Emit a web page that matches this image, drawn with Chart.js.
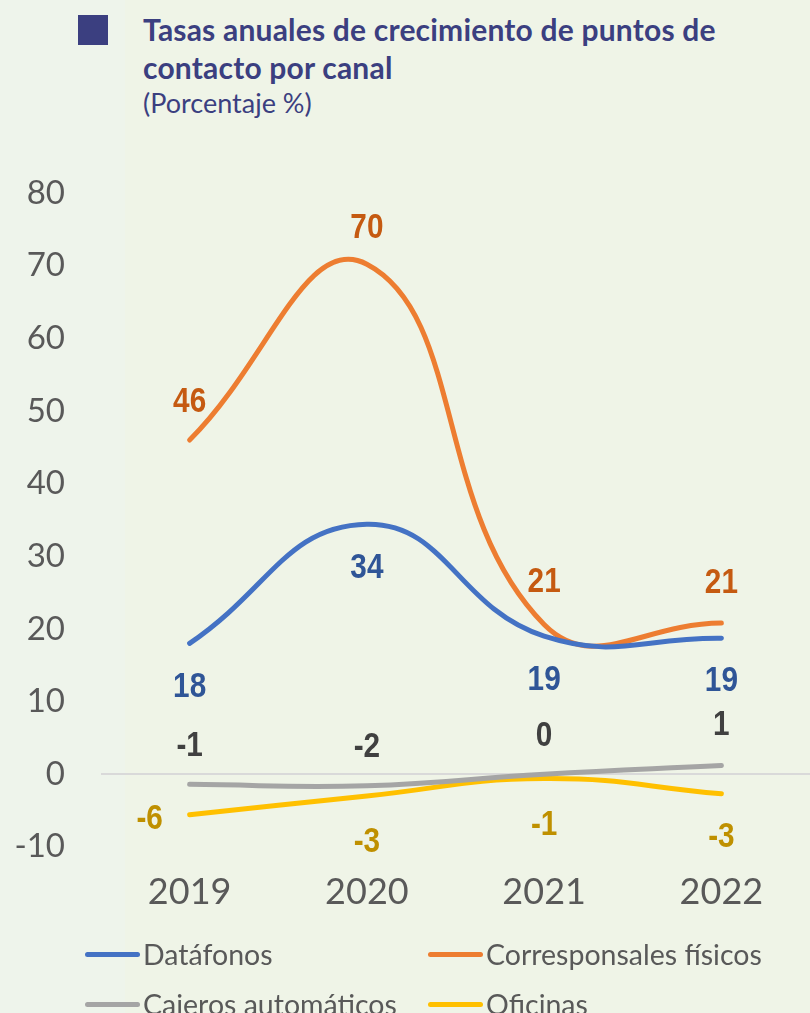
<!DOCTYPE html>
<html>
<head>
<meta charset="utf-8">
<script src="https://cdn.jsdelivr.net/npm/chart.js@4"></script>
<style>
  html, body { margin: 0; padding: 0; }
  body { width: 810px; height: 1013px; overflow: hidden; background: #eff4e7; position: relative; font-family: Lato, "Noto Sans", sans-serif; }
  .strip { position: absolute; left: 0; top: 0; width: 125px; height: 1013px; background: #eef4eb; }
  .title { position: absolute; left: 143px; top: 10px; color: #3b3f80; }
  .title .main { font-weight: bold; font-size: 30px; line-height: 38px; letter-spacing: 0.2px; }
  .title .sub { font-size: 27px; line-height: 32px; margin-top: 1px; }
  .square { position: absolute; left: 78px; top: 15px; width: 30px; height: 30px; background: #3b3f80; }
  .chart-box { position: absolute; left: 0; top: 0; width: 810px; height: 938px; }
  .legend { position: absolute; left: 85px; top: 937px; width: 720px; display: grid; grid-template-columns: 343px 370px; row-gap: 16px; color: #595959; font-size: 28.5px; }
  .legend div { display: flex; align-items: center; white-space: nowrap; }
  .legend span.ln { display: inline-block; width: 55px; height: 5px; border-radius: 3px; margin-right: 3px; }
</style>
</head>
<body>
<div class="strip"></div>
<div class="square"></div>
<div class="title">
  <div class="main">Tasas anuales de crecimiento de puntos de<br>contacto por canal</div>
  <div class="sub">(Porcentaje %)</div>
</div>
<div class="chart-box"><canvas id="chart"></canvas></div>
<div class="legend" id="legend"></div>
<script>
const years = ['2019', '2020', '2021', '2022'];
const datafonos = [18.0, 34.4, 19.0, 18.7];
const corresponsales = [46.0, 70.2, 20.6, 20.8];
const cajeros = [-1.4, -1.6, 0.0, 1.2];
const oficinas = [-5.6, -3.0, -0.6, -2.7];
const seriesNames = ['Datáfonos', 'Corresponsales físicos', 'Cajeros automáticos', 'Oficinas'];

const lineColors = ['#4472c4', '#ed7d31', '#a5a5a5', '#ffc000'];
const labelColors = ['#2f5597', '#c55a11', '#404040', '#bf9000'];

// where each value label sits relative to its point: [dx, dy]
const labelOffsets = [
  [[0, 44], [0, 44], [0, 44], [0, 43]],
  [[0, -38], [0, -36], [0, -42], [0, -40]],
  [[0, -38], [0, -38], [0, -38], [0, -40]],
  [[-40, 5], [0, 46], [0, 47], [0, 44]],
];

const valueLabels = {
  id: 'valueLabels',
  afterDatasetsDraw(chart) {
    const ctx = chart.ctx;
    chart.data.datasets.forEach((ds, i) => {
      const meta = chart.getDatasetMeta(i);
      meta.data.forEach((pt, j) => {
        const off = labelOffsets[i][j];
        ctx.save();
        ctx.translate(pt.x + off[0], pt.y + off[1]);
        ctx.scale(0.85, 1);
        ctx.font = 'bold 35px "Liberation Sans", sans-serif';
        ctx.textAlign = 'center';
        ctx.textBaseline = 'middle';
        ctx.fillStyle = labelColors[i];
        ctx.fillText(Math.round(ds.data[j]).toString(), 0, 0);
        ctx.restore();
      });
    });
  }
};

const allSeries = [datafonos, corresponsales, cajeros, oficinas];

const chart = new Chart(document.getElementById('chart'), {
  type: 'line',
  data: {
    labels: years,
    datasets: allSeries.map((vals, i) => ({
      label: seriesNames[i],
      data: vals,
      borderColor: lineColors[i],
      backgroundColor: lineColors[i],
      borderWidth: 5,
      pointRadius: 0,
      tension: 0.45,
      borderCapStyle: 'round',
    })),
  },
  options: {
    responsive: true,
    maintainAspectRatio: false,
    animation: false,
    layout: { padding: { top: 193, right: 0, bottom: 0, left: 0 } },
    plugins: {
      legend: { display: false },
      tooltip: { enabled: false },
    },
    scales: {
      x: {
        offset: true,
        grid: { display: false, drawTicks: false },
        border: { display: false },
        ticks: { color: '#595959', font: { family: 'Lato', size: 36 }, padding: 24 },
      },
      y: {
        min: -10,
        max: 80,
        afterFit(scale) { scale.width = 101; },
        grid: {
          drawTicks: false,
          color: ctx => (ctx.tick && ctx.tick.value === 0 ? '#d9d9d9' : 'rgba(0,0,0,0)'),
          lineWidth: 2,
        },
        border: { display: false },
        ticks: { stepSize: 10, color: '#595959', font: { family: 'Lato', size: 33 }, padding: 36 },
      },
    },
  },
  plugins: [valueLabels],
});

const legend = document.getElementById('legend');
seriesNames.forEach((name, i) => {
  const item = document.createElement('div');
  item.innerHTML = '<span class="ln" style="background:' + lineColors[i] + '"></span>' + name;
  legend.appendChild(item);
});
</script>
</body>
</html>
